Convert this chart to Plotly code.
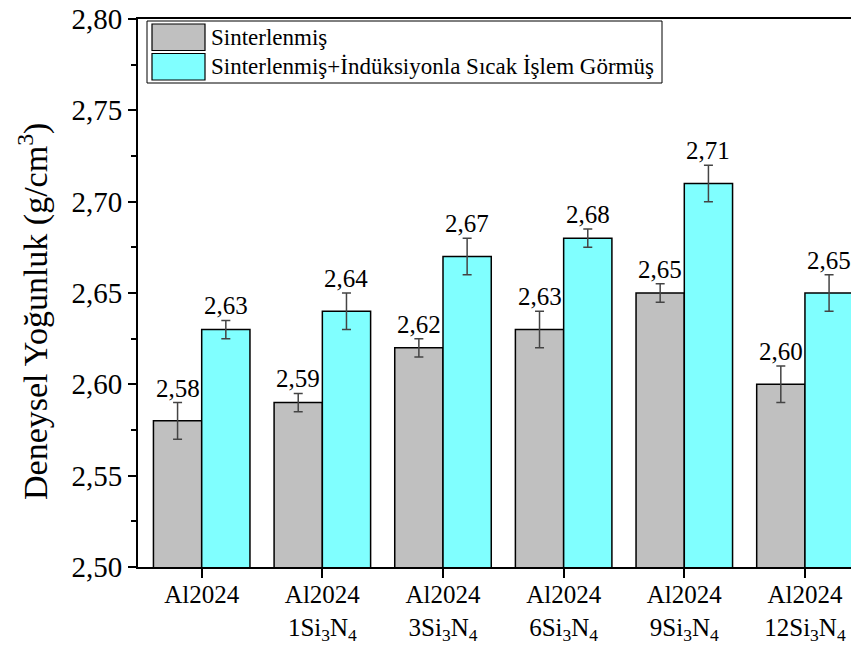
import plotly.graph_objects as go

categories = ["Al2024",
              "Al2024<br>1Si<sub>3</sub>N<sub>4</sub>",
              "Al2024<br>3Si<sub>3</sub>N<sub>4</sub>",
              "Al2024<br>6Si<sub>3</sub>N<sub>4</sub>",
              "Al2024<br>9Si<sub>3</sub>N<sub>4</sub>",
              "Al2024<br>12Si<sub>3</sub>N<sub>4</sub>"]
sinter = [2.58, 2.59, 2.62, 2.63, 2.65, 2.60]
sinter_err = [0.01, 0.005, 0.005, 0.01, 0.005, 0.01]
induk = [2.63, 2.64, 2.67, 2.68, 2.71, 2.65]
induk_err = [0.005, 0.01, 0.01, 0.005, 0.01, 0.01]
names = ["Sinterlenmiş", "Sinterlenmiş+İndüksiyonla Sıcak İşlem Görmüş"]
colors = ["#C0C0C0", "#80FFFF"]

FONT = "Liberation Serif, Times New Roman, serif"
# page is drawn with an 8px body margin, so the figure is a bit smaller
OFF = 8
W, H = 859 - OFF, 648 - OFF
L, R, T, B = 130, 0, 11, 81

fig = go.Figure()
for vals, errs, name, col in [(sinter, sinter_err, names[0], colors[0]),
                              (induk, induk_err, names[1], colors[1])]:
    fig.add_trace(go.Bar(
        x=categories, y=vals, name=name,
        marker=dict(color=col, line=dict(color="black", width=1.5)),
        error_y=dict(type="data", array=errs, visible=True,
                     color="#444444", thickness=1.5, width=4.5),
        showlegend=False,
    ))

# value labels above the error bars
for vals, errs, shift in [(sinter, sinter_err, -24), (induk, induk_err, 24)]:
    for c, v, e in zip(categories, vals, errs):
        fig.add_annotation(x=c, y=v + e, xshift=shift, yshift=-1,
                           text=f"{v:.2f}".replace(".", ","),
                           showarrow=False, yanchor="bottom",
                           font=dict(family=FONT, size=25, color="black"))

# hand-made legend (large swatches like the original), coords in screen px
pw, ph = W - L - R, H - T - B
def px(x): return (x - OFF - L) / pw
def py(y): return (H - B - (y - OFF)) / ph

fig.add_shape(type="rect", xref="paper", yref="paper",
              x0=px(147), x1=px(662), y0=py(83), y1=py(21),
              line=dict(color="black", width=1), fillcolor="white")
for i, (name, col) in enumerate(zip(names, colors)):
    top = 24 + i * 29.5
    fig.add_shape(type="rect", xref="paper", yref="paper",
                  x0=px(152), x1=px(205), y0=py(top + 26.5), y1=py(top),
                  line=dict(color="black", width=1.2), fillcolor=col)
    fig.add_annotation(xref="paper", yref="paper", x=px(209), y=py(top + 13),
                       text=name, showarrow=False, xanchor="left", yanchor="middle",
                       font=dict(family=FONT, size=23, color="black"))

# y axis title
fig.add_annotation(xref="paper", yref="paper", x=px(33), y=py(312),
                   text="Deneysel Yoğunluk (g/cm<sup>3</sup>)", textangle=-90,
                   showarrow=False, xanchor="center", yanchor="middle",
                   font=dict(family=FONT, size=34, color="black"))

fig.update_layout(
    width=W, height=H,
    margin=dict(l=L, r=R, t=T, b=B, autoexpand=False),
    plot_bgcolor="white", paper_bgcolor="white",
    separators=",.",
    barmode="group", bargap=0.2, bargroupgap=0,
    font=dict(family=FONT, color="black"),
)
fig.update_xaxes(
    range=[-0.528, 5.448], showline=True, linecolor="black", linewidth=2,
    mirror=True, ticks="outside", ticklen=9, tickwidth=2, tickcolor="black",
    tickfont=dict(family=FONT, size=25), showgrid=False, automargin=False,
    ticklabelstandoff=-5,
)
fig.update_yaxes(
    range=[2.5, 2.8], dtick=0.05, tickformat=".2f",
    showline=True, linecolor="black", linewidth=2, mirror=False,
    ticks="outside", ticklen=8, tickwidth=1.5, tickcolor="black",
    minor=dict(dtick=0.025, ticks="outside", ticklen=5, tickwidth=1.5, tickcolor="black"),
    tickfont=dict(family=FONT, size=29), showgrid=False, zeroline=False,
    automargin=False, ticklabeloverflow="allow",
)

fig.write_html("out.html")
